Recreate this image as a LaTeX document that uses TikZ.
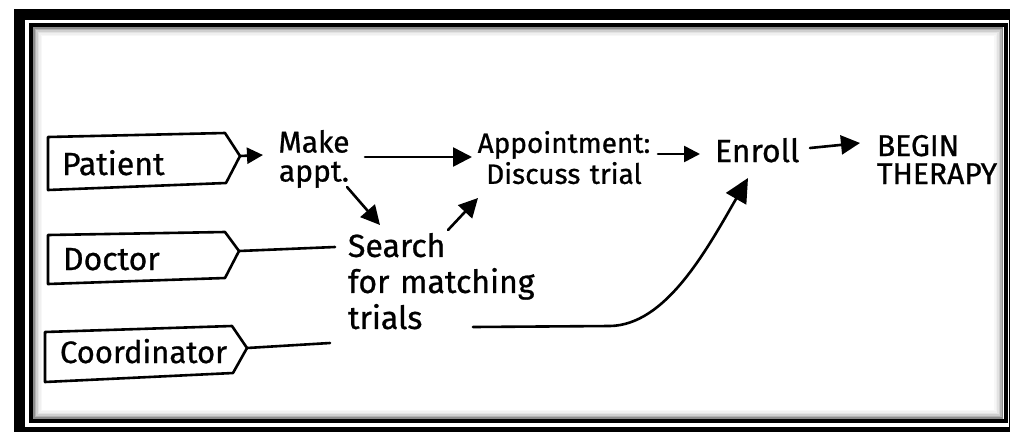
\documentclass[tikz,border=0pt]{standalone}
\usepackage{fontspec}
\setmainfont{Fira Sans}[FakeBold=0.8]
\usetikzlibrary{arrows.meta}
\begin{document}
\begin{tikzpicture}[x=1pt,y=-1pt,
  ink/.style={line width=2.6pt, line cap=round, line join=round},
  arr/.style={ink, -{Triangle[length=19pt,width=19pt]}},
  smallarr/.style={ink, -{Triangle[length=16pt,width=16pt]}},
  bigarr/.style={ink, -{Triangle[length=24pt,width=23pt]}},
  lbl/.style={inner sep=0pt, outer sep=0pt, font=\fontsize{32}{36}\selectfont},
  txt/.style={inner sep=0pt, outer sep=0pt, font=\fontsize{30}{34}\selectfont}
]
\useasboundingbox (0,0) rectangle (1010,432);
\fill[white] (0,0) rectangle (1010,432);

% double frame with soft inner shadow
\fill[black] (14,9) rectangle (1010,432);
\fill[white] (25,20) rectangle (1008.5,427);
\foreach \d/\c in {10.5/3,9/6,7.5/11,6/19,4.5/30,3/45}
  \draw[black!\c, line width=1.6pt] (31+\d,25+\d) rectangle (1005.5-\d,421-\d);
\draw[line width=4pt] (31,25) rectangle (1005.5,421);

% role tags
\draw[ink] (48,137) -- (225,133) -- (240,156) -- (226,183) -- (48,190) -- cycle;
\coordinate (pat-tip) at (240,156);
\node[lbl, anchor=base west] (pat) at (62,175) {Patient};

\draw[ink] (48,235) -- (225,232) -- (239,251) -- (225,278) -- (48,284) -- cycle;
\coordinate (doc-tip) at (239,251);
\node[lbl, anchor=base west] (doc) at (63,270) {Doctor};

\draw[ink] (45,332) -- (232,326) -- (247,348) -- (233,373) -- (45,382) -- cycle;
\coordinate (coord-tip) at (247,348);
\node[lbl, anchor=base west, font=\fontsize{31}{36}\selectfont] (coord) at (60,363) {Coordinator};

% steps
\node[txt, anchor=north west, text width=90pt, align=center,
      font=\fontsize{30}{29}\selectfont] (make) at (269,130) {Make\\appt.};
\node[txt, anchor=north west, text width=190pt, align=center,
      font=\fontsize{28}{31}\selectfont] (appt) at (469,131) {Appointment:\\Discuss trial};
\node[txt, anchor=base west, font=\fontsize{32}{36}\selectfont] (enroll) at (715,162) {Enroll};
\node[txt, anchor=north west, text width=140pt, align=left,
      font=\fontsize{30}{28}\selectfont] (begin) at (877,135) {BEGIN\\THERAPY};
\node[txt, anchor=north west, text width=220pt, align=left,
      font=\fontsize{32}{36}\selectfont] (search) at (348,233) {Search\\for matching\\trials};

% connectors
\draw[smallarr] (pat-tip) -- ([shift={(-6,25)}]make.north west);
\draw[arr] ([shift={(96,27)}]make.north west) -- ([shift={(3,26)}]appt.north west);
\draw[arr] ([shift={(78,57)}]make.north west) -- ([shift={(32,-8)}]search.north west);
\draw[arr] ([shift={(100,-3)}]search.north west) -- ([shift={(9,67)}]appt.north west);
\draw[ink] (doc-tip) -- ([shift={(-13,14)}]search.north west);
\draw[ink] (coord-tip) -- ([shift={(-18,110)}]search.north west);
\draw[smallarr] ([shift={(189,23)}]appt.north west) -- ([shift={(-15,-8)}]enroll.base west);
\draw[arr] ([shift={(95,-14)}]enroll.base west) -- ([shift={(-17,8)}]begin.north west);
\draw[bigarr] ([shift={(125,94)}]search.north west) -- ++(137,-1)
  .. controls +(55,-1) and +(-43,75) .. ([shift={(33,16)}]enroll.base west);
\end{tikzpicture}
\end{document}
